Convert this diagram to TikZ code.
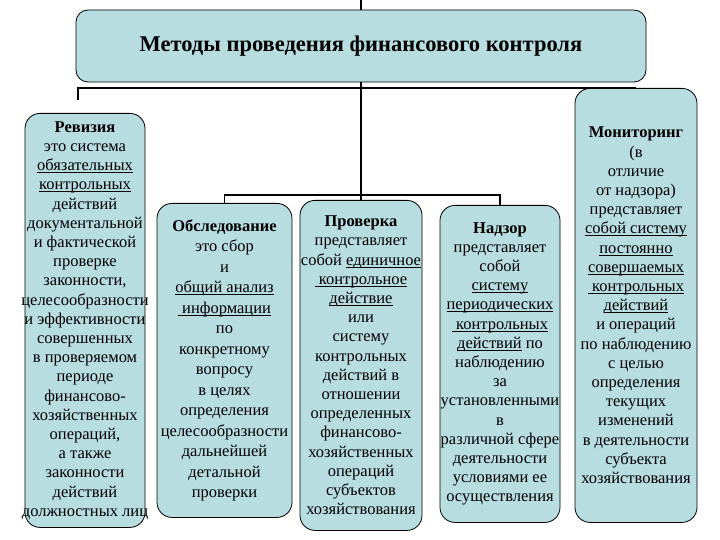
\documentclass[tikz,border=0pt]{standalone}
\usepackage{fontspec}
\setmainfont{Liberation Serif}
\usetikzlibrary{positioning}

\definecolor{methfill}{RGB}{183,221,225}
\newcommand{\overhang}[1]{\makebox[0pt]{#1}}
\newcommand{\uline}[1]{\setbox0\hbox{#1}\rlap{\rule[-2.2pt]{\wd0}{0.7pt}}\box0\relax}

\begin{document}
\begin{tikzpicture}[x=1pt, y=-1pt,
    methbox/.style={draw=black, fill=methfill, line width=0.8pt, rounded corners=15pt,
      align=center, inner xsep=0pt, anchor=north, font=\fontsize{16.5}{19.2}\selectfont},
    conn/.style={draw=black, line width=1.6pt}]
  \useasboundingbox (0,0) rectangle (720,540);

  \node[methbox, rounded corners=12pt, anchor=center, minimum width=570pt, minimum height=72pt,
    font=\fontsize{22.5}{26}\selectfont\bfseries] (title) at (361,46)
    {Методы проведения финансового контроля};

  \node[methbox, minimum width=120pt, minimum height=414pt] (rev) at (85,113)
    {\textbf{Ревизия}\\ это система\\ \uline{обязательных}\\ \uline{контрольных}\\ действий\\
     \overhang{документальной}\\ \overhang{и фактической}\\ проверке\\ законности,\\ \overhang{целесообразности}\\
     \overhang{и эффективности}\\ совершенных\\ \overhang{в проверяемом}\\ периоде\\ финансово-\\
     \overhang{хозяйственных}\\ операций,\\ а также\\ законности\\ действий\\ \overhang{должностных лиц}};

  \node[methbox, minimum width=135pt, minimum height=314pt,
    font=\fontsize{16.5}{20.5}\selectfont] (obsl) at (224.5,203)
    {\textbf{Обследование}\\ это сбор\\ и\\ \uline{общий анализ}\\ \uline{ информации}\\ по\\
     конкретному\\ вопросу\\ в целях\\ определения\\ \overhang{целесообразности}\\ дальнейшей\\
     детальной\\ проверки};

  \node[methbox, minimum width=122pt, minimum height=330pt] (prov) at (361,200)
    {\textbf{Проверка}\\ представляет\\ \overhang{собой \uline{единичное}}\\ \uline{ контрольное}\\
     \uline{действие}\\ или\\ систему\\ контрольных\\ действий в\\ отношении\\ \overhang{определенных}\\
     финансово-\\ \overhang{хозяйственных}\\ операций\\ субъектов\\ \overhang{хозяйствования}};

  \node[methbox, minimum width=120pt, minimum height=317pt] (nadz) at (500,205)
    {\textbf{Надзор}\\ представляет\\ собой\\ \uline{систему}\\ \overhang{\uline{периодических}}\\
     \uline{ контрольных}\\ \uline{действий} по\\ наблюдению\\ за\\ \overhang{установленными}\\ в\\
     \overhang{различной сфере}\\ деятельности\\ условиями ее\\ \overhang{осуществления}};

  \node[methbox, minimum width=122pt, minimum height=434pt] (mon) at (636,88)
    {\textbf{Мониторинг}\\ (в\\ отличие\\ от надзора)\\ представляет\\ \overhang{\uline{собой систему}}\\
     \uline{постоянно}\\ \uline{совершаемых}\\ \uline{ контрольных}\\ \uline{действий}\\
     и операций\\ \overhang{по наблюдению}\\ с целью\\ определения\\ текущих\\ изменений\\
     \overhang{в деятельности}\\ субъекта\\ \overhang{хозяйствования}};

  % connectors
  \coordinate (topend) at (361,0);
  \coordinate (revtop) at (78,100);
  \coordinate (bar2) at (361,195);
  \draw[conn] (topend) -- (title.north);
  \draw[conn] (title.south) -- (prov.north);
  \draw[conn] (revtop) |- (mon.north);
  \draw[conn] (obsl.north) |- (bar2) -| (nadz.north);
\end{tikzpicture}
\end{document}
